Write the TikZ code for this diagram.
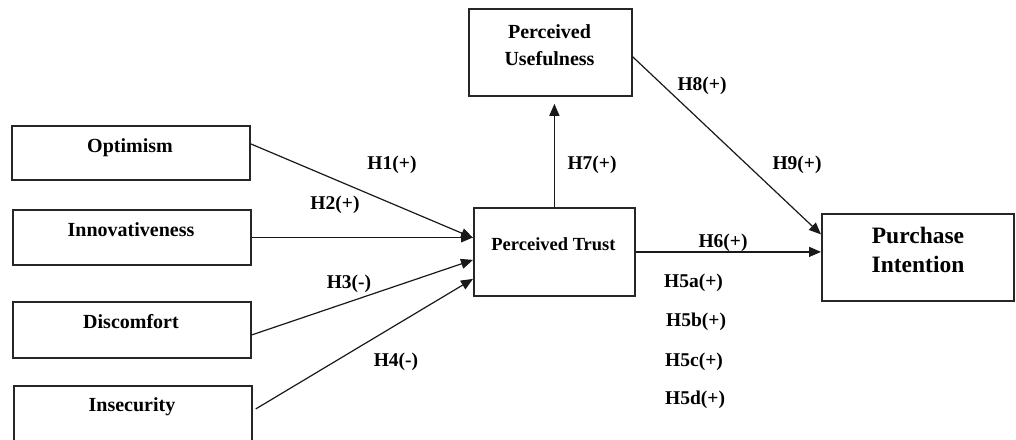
\documentclass[tikz,border=0pt]{standalone}
\usepackage{fontspec}
\setmainfont{Liberation Serif}
\usetikzlibrary{arrows.meta}
\tikzset{
  box/.style={draw=black!85, line width=1.8pt, rectangle, inner sep=0pt, anchor=north west},
  txt/.style={inner sep=0pt, anchor=base, font=\bfseries\fontsize{20}{24}\selectfont},
  hyp/.style={inner sep=0pt, anchor=base, font=\bfseries\fontsize{19.5}{23}\selectfont},
  conn/.style={draw=black!90, line width=1.2pt, -{Triangle[length=12pt,width=10pt]}}
}
\begin{document}
\begin{tikzpicture}[x=1pt,y=-1pt]
\useasboundingbox (0,0) rectangle (1016,439);
\clip (0,0) rectangle (1016,439);
\fill[white] (0,0) rectangle (1016,439);
% boxes
\node[box, minimum width=238pt, minimum height=54pt] (opt) at (11,125) {};
\node[box, minimum width=238pt, minimum height=55pt] (inn) at (12,209) {};
\node[box, minimum width=238pt, minimum height=56pt] (dis) at (12,301) {};
\node[box, minimum width=238pt, minimum height=56pt] (ins) at (13,385) {};
\node[box, minimum width=161pt, minimum height=88pt] (pt) at (473,207) {};
\node[box, minimum width=163pt, minimum height=87pt] (pu) at (468,8) {};
\node[box, minimum width=192pt, minimum height=87pt] (pi) at (821,213) {};
% texts
\node[txt] (opt-t) at (130,152.6) {Optimism};
\node[txt] (inn-t) at (131,236.6) {Innovativeness};
\node[txt] (dis-t) at (131,328.6) {Discomfort};
\node[txt] (ins-t) at (132,411.6) {Insecurity};
\node[txt, font=\bfseries\fontsize{18.5}{22}\selectfont] (pt-t) at (553.5,250) {Perceived Trust};
\node[txt] (pu-t1) at (549.5,38.6) {Perceived};
\node[txt] (pu-t2) at (549.5,65.6) {Usefulness};
\node[txt, font=\bfseries\fontsize{23.5}{28}\selectfont] (pi-t1) at (918,243.8) {Purchase};
\node[txt, font=\bfseries\fontsize{23.5}{28}\selectfont] (pi-t2) at (918,272.8) {Intention};
% connectors
\draw[conn] ([yshift=9pt]opt.east) -- ([yshift=14pt]pt.west);
\draw[conn] (inn.east) -- ([yshift=14.5pt]pt.west);
\draw[conn] ([yshift=-5pt]dis.east) -- ([yshift=-8pt]pt.west);
\draw[conn] ([xshift=3pt,yshift=5pt]ins.east) -- ([yshift=-27pt]pt.west);
\draw[conn, shorten >=7pt] (pt.north) -- (pt.north |- pu.south);
\draw[conn] ([yshift=-4.5pt]pu.east) -- ([yshift=23pt]pi.west);
\draw[conn] (pt.east) -- ([yshift=5.5pt]pi.west);
% hypotheses labels
\node[hyp] (h1) at (392,169.4) {H1(+)};
\node[hyp] (h2) at (335,209.4) {H2(+)};
\node[hyp] (h3) at (349,288.4) {H3(-)};
\node[hyp] (h4) at (396,366.4) {H4(-)};
\node[hyp] (h7) at (592,169.4) {H7(+)};
\node[hyp] (h8) at (702,90.4) {H8(+)};
\node[hyp] (h9) at (797,169.4) {H9(+)};
\node[hyp] (h6) at (723,247.4) {H6(+)};
\node[hyp, anchor=base west] (h5a) at (664,287.4) {H5a(+)};
\node[hyp, anchor=base west] (h5b) at (666,326.4) {H5b(+)};
\node[hyp, anchor=base west] (h5c) at (665,366.4) {H5c(+)};
\node[hyp, anchor=base west] (h5d) at (665,404.4) {H5d(+)};
\end{tikzpicture}
\end{document}
